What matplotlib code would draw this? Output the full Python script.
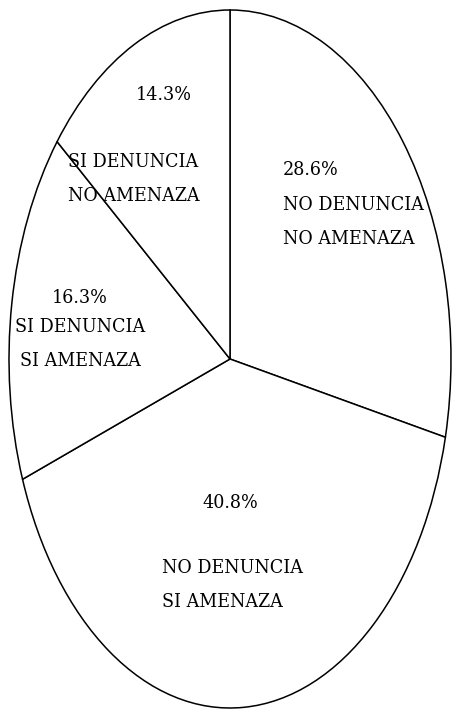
import matplotlib
matplotlib.use("Agg")
import matplotlib.pyplot as plt

# Data
values = [28.6, 40.8, 16.3, 14.3]
labels = ["NO DENUNCIA\nNO AMENAZA",
          "NO DENUNCIA\nSI AMENAZA",
          "SI DENUNCIA\nSI AMENAZA",
          "SI DENUNCIA\nNO AMENAZA"]
pct_labels = [f"{v:.1f}%" for v in values]

W, H = 457, 710
fig = plt.figure(figsize=(W / 100, H / 100), dpi=100)
ax = fig.add_axes([0, 0, 1, 1])

# ellipse geometry in pixels (center and semi-axes)
cx, cy, a, b = 230, 359, 221, 349

ax.pie(values, startangle=90, counterclock=False, radius=1,
       colors=["white"] * len(values),
       wedgeprops=dict(edgecolor="black", linewidth=1.1))
ax.set_aspect("auto")
ax.set_xlim((0 - cx) / a, (W - cx) / a)
ax.set_ylim((cy - H) / b, (cy - 0) / b)
ax.axis("off")

font = dict(family="DejaVu Serif", stretch="condensed", fontsize=14, color="black")

def px(x, y):
    return x / W, 1 - y / H

# (pct x, pct y, pct ha, label x, label first-line y, label ha)
layout = [
    (283, 170, "left", 283, 205, "left"),
    (230, 503, "center", 162, 568, "left"),
    (80, 298, "center", 80, 327, "center"),
    (164, 95, "center", 68, 162, "left"),
]
step = 34
for pct, lab, (pxx, pyy, pha, lx, ly, lha) in zip(pct_labels, labels, layout):
    ax.text(*px(pxx, pyy), pct, transform=ax.transAxes, ha=pha, va="center", **font)
    for i, line in enumerate(lab.split("\n")):
        ax.text(*px(lx, ly + i * step), line, transform=ax.transAxes,
                ha=lha, va="center", **font)

fig.savefig("out.png", dpi=100, facecolor="white")
